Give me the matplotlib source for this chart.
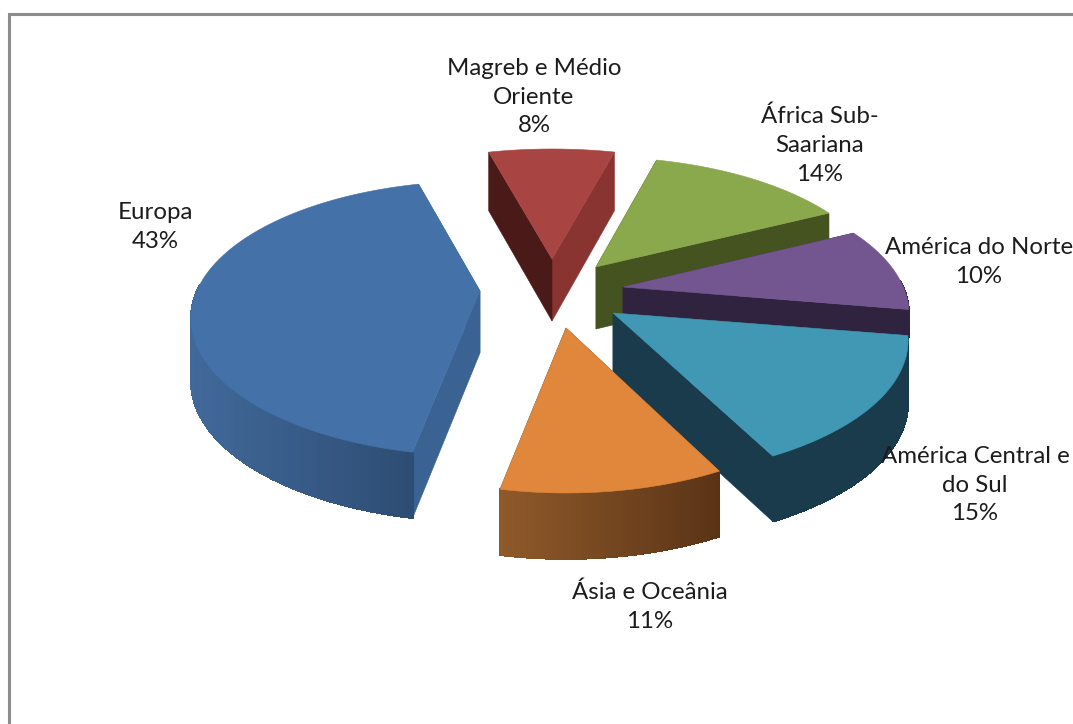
#!/usr/bin/env python3
# -*- coding: utf-8 -*-

import numpy as np
import matplotlib
matplotlib.use('Agg')
import matplotlib.pyplot as plt
from matplotlib.collections import PolyCollection
from matplotlib.colors import to_rgb
from matplotlib.patches import Polygon

# dados, na ordem das fatias
categories = ['Europa', 'Ásia e Oceânia', 'América Central e\ndo Sul',
              'América do Norte', 'África Sub-\nSaariana', 'Magreb e Médio\nOriente']
values = [42.9, 10.6, 14.9, 10.0, 13.6, 8.3]

# estilo de cada fatia
top_colors = ['#4472a8', '#e0873c', '#4098b4', '#73568f', '#8aa84c', '#a84543']
wall_left = ['#41699a', '#8f5a2a', '#1a3b4b', '#2f2340', '#44531f', '#4a1a18']
wall_right = ['#2d4c73', '#5a3316', '#1a3b4b', '#2f2340', '#44531f', '#8a3432']
face_start = ['#3a6292', '#5a3316', '#1a3b4b', '#2f2340', '#44531f', '#8a3432']
face_end = ['#3a6292', '#5a3316', '#1a3b4b', '#2f2340', '#44531f', '#4a1a18']
# deslocamento de cada fatia em relação ao centro (explode)
explode_x = [-70, 16, 63, 73, 46, 2]
explode_y = [1, 38, 23, -3, -23, -31]
rx_scale = [0.97, 0.95, 0.99, 0.96, 0.97, 1.0]
depths = [62, 62, 62, 27, 62, 62]
draw_order = [4, 5, 0, 3, 2, 1]

# posição dos rótulos
label_x = [155, 650, 975, 979, 820, 534]
label_y = [227, 607, 485, 262, 145, 97]

CENTER = (550, 290)
RX, RY = 292, 132
PERSP = 0.2
START = 105


def project(theta, scale=1.0):
    """Passa um ponto do disco para a imagem, com perspetiva"""
    s = np.sin(theta)
    q = 1 + PERSP * s
    return RX * scale * np.cos(theta) / q, -RY * s / q


def mix(c1, c2, t):
    return tuple((1 - t) * a + t * b for a, b in zip(to_rgb(c1), to_rgb(c2)))


def draw_slice(ax, i, a0, a1):
    ox = CENTER[0] + explode_x[i]
    oy = CENTER[1] + explode_y[i]
    th = np.radians(np.linspace(a0, a1, 120))
    px, py = project(th, rx_scale[i])
    px, py = px + ox, py + oy
    d = depths[i] / (1 + 0.06 * np.sin(th))

    # faces de corte
    for k, col in ((0, face_start[i]), (-1, face_end[i])):
        quad = [(ox, oy), (px[k], py[k]), (px[k], py[k] + d[k]), (ox, oy + depths[i])]
        ax.add_patch(Polygon(quad, closed=True, fc=col, ec=col, lw=0.4))

    # parede exterior, só a parte virada para a frente
    front = np.where(np.sin(th) < 0.05)[0]
    if len(front) > 1:
        quads = []
        cols = []
        xmin, xmax = px[front].min(), px[front].max()
        for j in front[:-1]:
            quads.append([(px[j], py[j]), (px[j + 1], py[j + 1]),
                          (px[j + 1], py[j + 1] + d[j + 1]), (px[j], py[j] + d[j])])
            t = (px[j] - xmin) / max(xmax - xmin, 1)
            cols.append(mix(wall_left[i], wall_right[i], t))
        ax.add_collection(PolyCollection(quads, facecolors=cols, edgecolors=cols,
                                         linewidths=0.6, antialiaseds=False))

    # topo
    top = [(ox, oy)] + list(zip(px, py))
    ax.add_patch(Polygon(top, closed=True, fc=top_colors[i], ec=top_colors[i], lw=0.4))


def main():
    fig = plt.figure(figsize=(10.73, 7.24), dpi=100, facecolor='white')
    ax = fig.add_axes([0, 0, 1, 1])
    ax.set_xlim(0, 1073)
    ax.set_ylim(724, 0)
    ax.axis('off')

    # moldura do gráfico (só se vê o canto superior esquerdo)
    ax.plot([9, 9, 1073], [724, 14, 14], color='#8c8c8c', lw=2.2, solid_joinstyle='miter')

    total = sum(values)
    edges = START + np.concatenate(([0], np.cumsum(values))) * 360.0 / total
    for i in draw_order:
        draw_slice(ax, i, edges[i], edges[i + 1])

    for i, name in enumerate(categories):
        ax.text(label_x[i], label_y[i], '%s\n%.0f%%' % (name, values[i]), ha='center', va='center',
                family='Lato', fontsize=17.3, color='#1c1c1c', linespacing=1.46)

    fig.savefig('out.png', dpi=100)


if __name__ == '__main__':
    main()
